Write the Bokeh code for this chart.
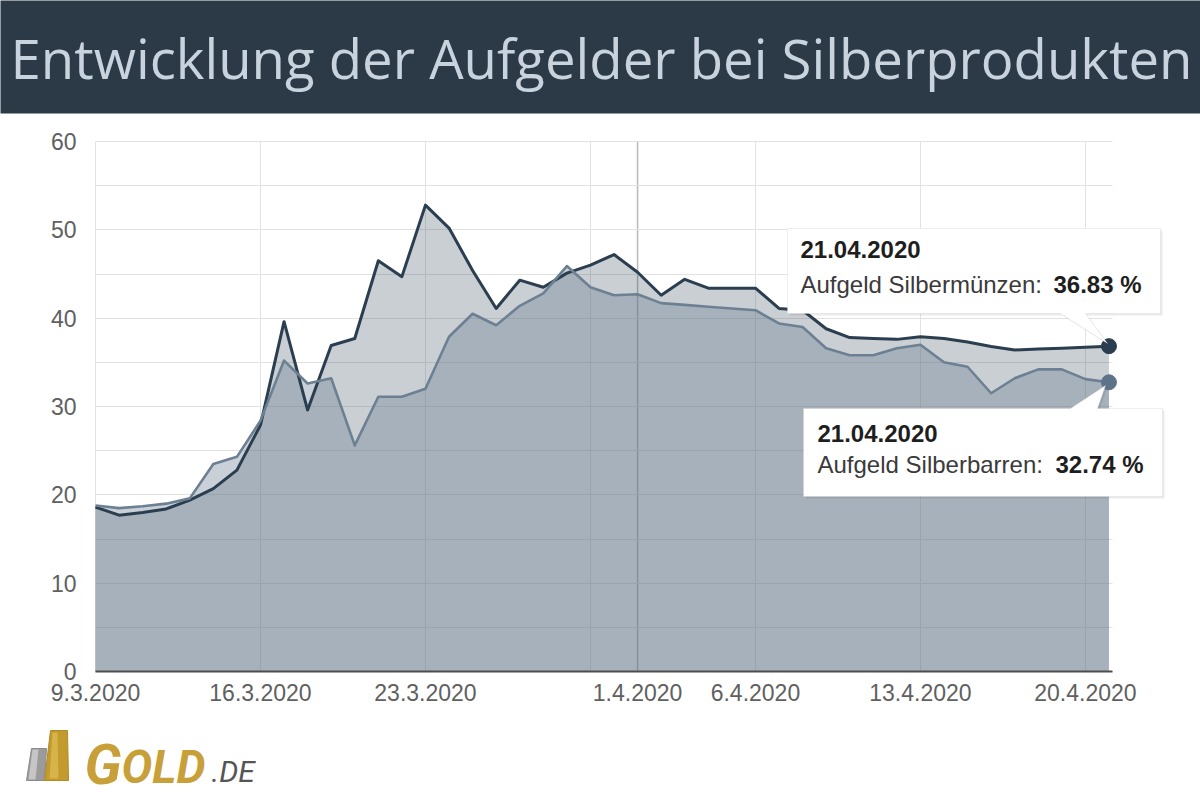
import pandas as pd
from bokeh.plotting import figure
from bokeh.models import (ColumnDataSource, Range1d, FixedTicker, Label,
                          PolyAnnotation, BoxAnnotation, Grid)
from bokeh.core.properties import value
from bokeh.embed import file_html
from bokeh.resources import INLINE

# ---------------- data ----------------
title_text = "Entwicklung der Aufgelder bei Silberprodukten"
dates = pd.date_range("2020-03-09", "2020-04-21", freq="D")

muenzen = [18.6, 17.7, 18.0, 18.4, 19.4, 20.7, 22.8, 27.9, 39.6, 29.6,
           36.9, 37.7, 46.5, 44.7, 52.8, 50.2, 45.4, 41.1, 44.3, 43.5,
           45.1, 46.0, 47.2, 45.2, 42.6, 44.4, 43.4, 43.4, 43.4, 41.1,
           40.9, 38.8, 37.8, 37.7, 37.6, 37.9, 37.7, 37.3, 36.8, 36.4,
           36.5, 36.6, 36.7, 36.83]
barren = [18.8, 18.5, 18.7, 19.0, 19.6, 23.5, 24.3, 28.4, 35.2, 32.6,
          33.2, 25.6, 31.1, 31.1, 32.0, 37.9, 40.5, 39.2, 41.4, 42.8,
          45.9, 43.5, 42.6, 42.7, 41.7, 41.5, 41.3, 41.1, 40.9, 39.4,
          39.0, 36.6, 35.8, 35.8, 36.6, 37.0, 35.0, 34.5, 31.5, 33.2,
          34.2, 34.2, 33.1, 32.74]

tick_dates = ["2020-03-09", "2020-03-16", "2020-03-23", "2020-04-01",
              "2020-04-06", "2020-04-13", "2020-04-20"]
tick_labels = ["9.3.2020", "16.3.2020", "23.3.2020", "1.4.2020",
               "6.4.2020", "13.4.2020", "20.4.2020"]
grid_dates = ["2020-03-09", "2020-03-16", "2020-03-23", "2020-03-30",
              "2020-04-06", "2020-04-13", "2020-04-20"]
month_line_date = "2020-04-01"
y_ticks = [0, 10, 20, 30, 40, 50, 60]
y_minor = [5, 15, 25, 35, 45, 55]

tip_date = "21.04.2020"
tip_m_label = "Aufgeld Silbermünzen: "
tip_b_label = "Aufgeld Silberbarren: "
tip_m_value = "36.83 %"
tip_b_value = "32.74 %"

# ---------------- geometry helpers (page pixels -> data) ----------------
d0 = dates[0]
def day(d):
    return float((pd.Timestamp(d) - d0).days)

xs = [day(d) for d in dates]
X_END = 43.15
Y_MAX = 60.0
FR_L, FR_R, FR_T, FR_B = 95, 1112, 141, 671
STEP = (FR_R - FR_L) / X_END

def X(px):
    return (px - FR_L) / STEP

def Y(py):
    return (FR_B - py) * Y_MAX / (FR_B - FR_T)

C_M = "#2b3e50"
C_B = "#6d8093"
FONT = "Liberation Sans"
BAR = "#2c3a48"
GRID = "#e2e2e2"

# ---------------- figure ----------------
src = ColumnDataSource(dict(x=xs, m=muenzen, b=barren))
last = ColumnDataSource(dict(x=[xs[-1]], m=[muenzen[-1]], b=[barren[-1]]))

p = figure(width=1200, height=800, x_range=Range1d(X(0), X(1200)),
           y_range=Range1d(Y(800), Y(0)), min_border=0,
           toolbar_location=None, output_backend="svg")
p.outline_line_color = None
p.background_fill_color = "white"
p.border_fill_color = "white"

# grids
p.xgrid.ticker = FixedTicker(ticks=[day(d) for d in grid_dates])
p.ygrid.ticker = FixedTicker(ticks=y_ticks, minor_ticks=y_minor)
if "cross_bounds" in Grid.properties():
    p.xgrid.grid_line_color = GRID
    p.ygrid.grid_line_color = GRID
    p.ygrid.minor_grid_line_color = GRID
    p.xgrid.cross_bounds = (0, Y_MAX)
    p.ygrid.cross_bounds = (0, X_END)
    p.ygrid.bounds = (0, Y_MAX)
else:
    p.grid.visible = False
    gy = sorted(y_ticks + y_minor)
    p.segment(x0=[0] * len(gy), x1=[X_END] * len(gy), y0=gy, y1=gy,
              line_color=GRID, line_width=1, level="underlay")
    gx = [day(d) for d in grid_dates]
    p.segment(x0=gx, x1=gx, y0=[0] * len(gx), y1=[Y_MAX] * len(gx),
              line_color=GRID, line_width=1, level="underlay")
mday = day(month_line_date)
p.segment(x0=[mday], x1=[mday], y0=[0], y1=[Y_MAX], line_color="#b9b9b9",
          line_width=1.5, level="underlay")

# data
p.varea(x="x", y1=0, y2="m", source=src, fill_color=C_M, fill_alpha=0.25)
p.varea(x="x", y1=0, y2="b", source=src, fill_color=C_B, fill_alpha=0.37)
p.line(x="x", y="m", source=src, line_color=C_M, line_width=3, line_join="round")
p.line(x="x", y="b", source=src, line_color=C_B, line_width=2.6, line_join="round")
p.scatter(x="x", y="m", source=last, size=15, fill_color=C_M, line_color=C_M)
p.scatter(x="x", y="b", source=last, size=15, fill_color="#5f7388", line_color="#5f7388")

# axes at fixed locations
p.xaxis.fixed_location = 0
p.yaxis.fixed_location = 0
p.xaxis.bounds = (0, X_END)
p.yaxis.bounds = (0, Y_MAX)
p.xaxis.ticker = FixedTicker(ticks=[day(d) for d in tick_dates])
p.xaxis.major_label_overrides = {int(day(d)): lab for d, lab in zip(tick_dates, tick_labels)}
p.xaxis.major_tick_line_color = None
p.xaxis.minor_tick_line_color = None
p.xaxis.axis_line_color = "#4d4d4d"
p.xaxis.axis_line_width = 2
p.xaxis.major_label_text_font = FONT
p.xaxis.major_label_text_font_size = "23px"
p.xaxis.major_label_text_color = "#606060"
p.xaxis.major_label_standoff = 6

p.yaxis.ticker = FixedTicker(ticks=y_ticks, minor_ticks=y_minor)
p.yaxis.axis_line_color = None
p.yaxis.major_tick_line_color = None
p.yaxis.minor_tick_line_color = None
p.yaxis.major_label_text_font = FONT
p.yaxis.major_label_text_font_size = "23px"
p.yaxis.major_label_text_color = "#606060"
p.yaxis.major_label_standoff = 13

# ---------------- title bar ----------------
p.add_layout(BoxAnnotation(left=X(-5), right=X(1205), top=Y(-5), bottom=Y(113),
                           fill_color=BAR, fill_alpha=1.0, line_color=None))
p.add_layout(Label(x=X(601), y=Y(57), text=title_text, text_font="Open Sans",
                   text_font_size="54.5px", text_color="#c8d3de", text_align="center",
                   text_baseline="alphabetic"))

# ---------------- tooltips (callouts) ----------------
def callout(pts, shadow=False):
    off = 2 if shadow else 0
    return PolyAnnotation(xs=[X(a + off) for a, b in pts], ys=[Y(b + off) for a, b in pts],
                          xs_units="data", ys_units="data",
                          fill_color="black" if shadow else "white",
                          fill_alpha=0.08 if shadow else 1.0,
                          line_color=None if shadow else "#c9c9c9", line_width=1)

c1 = [(787, 228), (1160, 228), (1160, 313), (1085, 313), (1107, 343), (1060, 313), (787, 313)]
c2 = [(803, 408), (1070, 408), (1105, 385), (1097, 408), (1162, 408), (1162, 496), (803, 496)]
for c in (c1, c2):
    p.add_layout(callout(c, shadow=True))
    p.add_layout(callout(c))

SHIFT = 8  # compensates the renderer's baseline placement
def lab(px, py, text, bold=False, color="#333333"):
    p.add_layout(Label(x=X(px), y=Y(py - SHIFT), text=text, text_font=FONT,
                       text_font_size="24px", text_font_style="bold" if bold else "normal",
                       text_color=color, text_align="left", text_baseline="alphabetic"))

lab(800, 257, tip_date, bold=True, color="#1e1e1e")
lab(800, 292, tip_m_label, color="#3a3a3a")
lab(1053, 292, tip_m_value, bold=True, color="#1e1e1e")
lab(817, 441, tip_date, bold=True, color="#1e1e1e")
lab(817, 472, tip_b_label, color="#3a3a3a")
lab(1055, 472, tip_b_value, bold=True, color="#1e1e1e")

# ---------------- logo ----------------
def poly(pts, **kw):
    p.patch(x=[X(a) for a, b in pts], y=[Y(b) for a, b in pts], **kw)

poly([(26, 780), (44, 780), (46, 748), (31, 748)], fill_color="#9b9b9b", line_color="#8a8a8a")
poly([(28, 779), (35, 779), (38, 749), (32, 749)], fill_color="#c6c6c6", line_color=None)
poly([(44, 780), (68, 780), (67, 730), (50, 730)], fill_color="#c29a2e", line_color="#b08a25")
poly([(49, 778), (58, 778), (57, 732), (52, 732)], fill_color="#e3c65e", line_color=None,
     fill_alpha=0.6)
LOGO_FONT = value("Roboto")
LB = 764  # baseline placement compensated (visual baseline ~780)
p.text(x=[X(84)], y=[Y(LB)], text=["G"], text_font=LOGO_FONT, text_font_style="bold italic",
       text_font_size="56px", text_color="#c8a03a", text_baseline="alphabetic")
p.text(x=[X(121)], y=[Y(LB + 2)], text=["OLD"], text_font=LOGO_FONT, text_font_style="bold italic",
       text_font_size="46px", text_color="#c8a03a", text_baseline="alphabetic")
p.text(x=[X(211)], y=[Y(LB + 7)], text=[".DE"], text_font=LOGO_FONT, text_font_style="italic",
       text_font_size="30px", text_color="#555555", text_baseline="alphabetic")

open("out.html", "w").write(file_html(p, INLINE))
